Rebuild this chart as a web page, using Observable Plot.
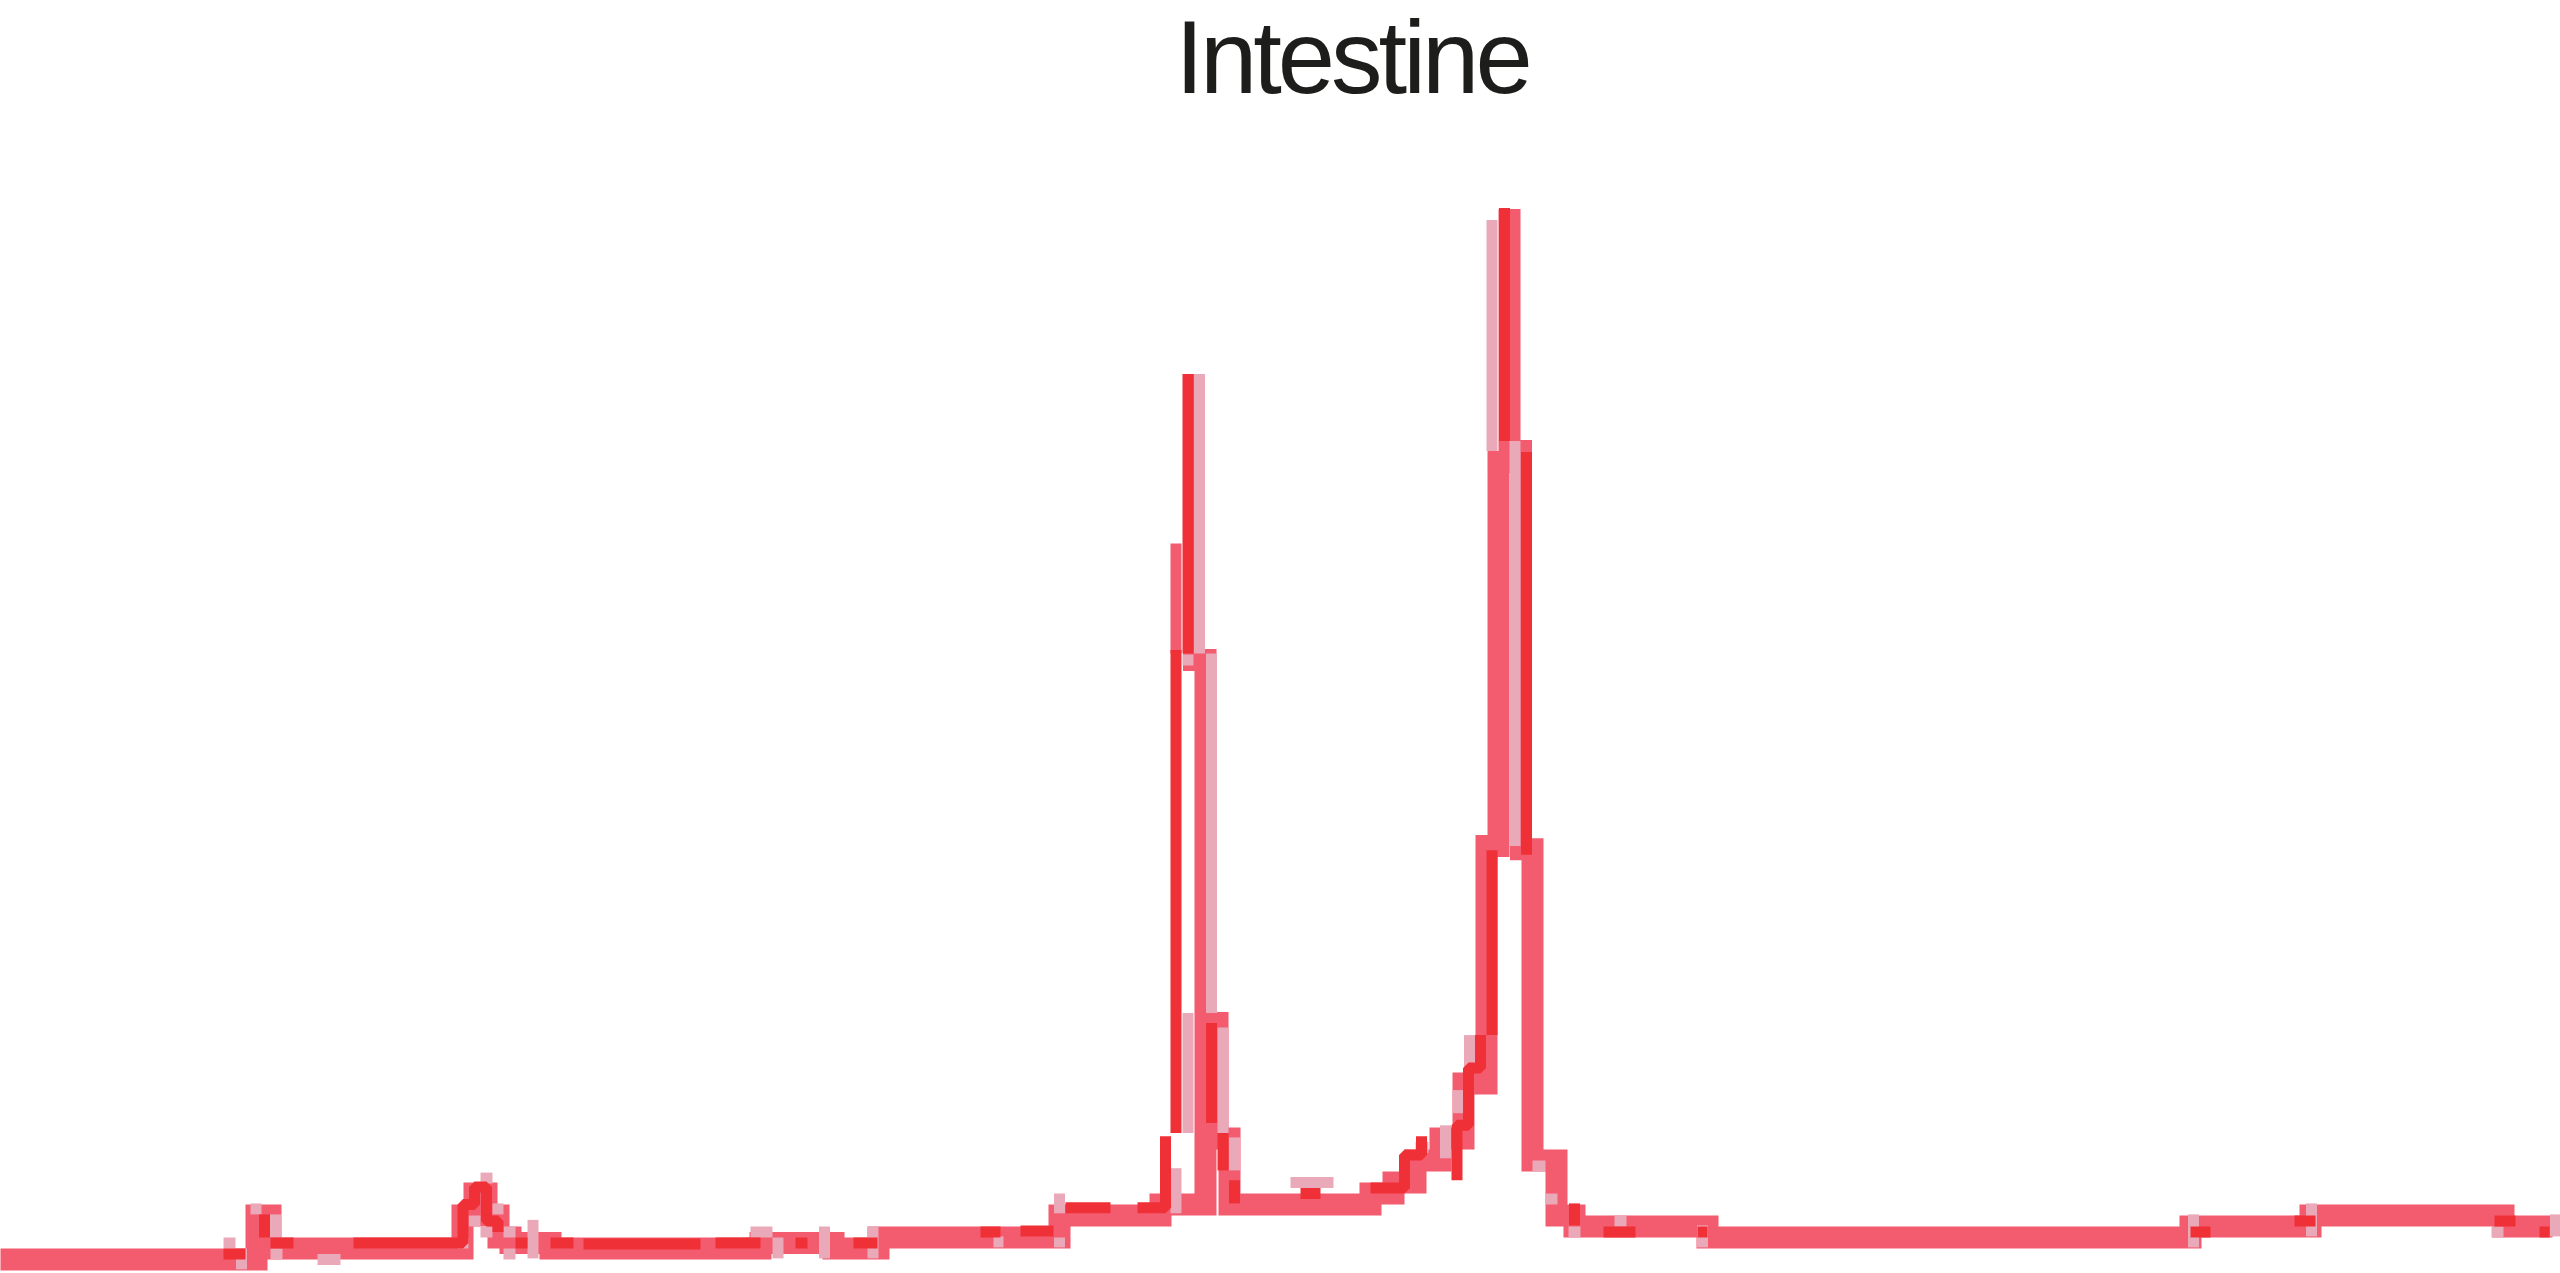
<!DOCTYPE html>
<html>
<head>
<meta charset="utf-8">
<script src="https://cdn.jsdelivr.net/npm/d3@7"></script>
<script src="https://cdn.jsdelivr.net/npm/@observablehq/plot@0.6"></script>
<style>
  html, body { margin: 0; padding: 0; background: #ffffff; }
  #wrap { width: 2560px; }
  #title { position: relative; height: 120px; width: 2560px; }
  #title div { position: absolute; left: 0; width: 2704px; top: 0; text-align: center;
    font-family: "Liberation Sans", Arial, sans-serif; font-weight: 400; font-size: 103px; line-height: 1.12;
    letter-spacing: -4px; color: #1d1d1b; }
  svg { display: block; }
</style>
</head>
<body>
<div id="wrap">
  <div id="title"><div>Intestine</div></div>
  <div id="chart"></div>
</div>
<script>
// ---- data (position along the gut, level) ----
const titleText = "Intestine";

// main series (thick band): [position, level]
const mainSeries = [
  [0,1],[25.6,5],[27,2],[46.2,5],[47.4,7],[48.6,5],[49.8,3],[51,2.5],[55,2],[76,2.5],[83.3,2],[87.8,3],
  [105.9,5],[116,6],[120.5,55.5],[119.35,81.5],[119.35,55.5],[120.5,22.5],[121.7,12],[122.9,6],
  [137,7],[139.3,8],[141.5,10],[144,12],[146.3,17],[148.6,38.6],[149.8,73.5],[150.9,96.5],[150.9,74.5],
  [152.05,38.3],[153.2,10],[155.6,5],[157.4,4],[170.7,3],[219,4],[231,5],[250.3,4],[255.2,4]
];

// extra pieces of the main colour (one lane wide)
const mainAccents = [
  [[117.55,56.1],[117.55,66.1]],
  [[74.5,2.5],[75.5,2.5]]
];

// red series pieces
const redSeries = [
  [[22.3,1.5],[24.5,1.5]],
  [[26.4,3],[26.4,5.1]],
  [[27,2.5],[29.3,2.5]],
  [[35.3,2.5],[46.25,6],[47.4,7.6],[48.6,4.5],[49.75,3.5]],
  [[51.5,2.5],[52.7,2.5]],
  [[55,2.5],[57.3,2.5]],
  [[58.3,2.4],[70,2.4]],
  [[71.5,2.5],[76,2.5]],
  [[79.5,2.5],[80.7,2.5]],
  [[85.3,2.5],[87.7,2.5]],
  [[98,3.5],[100,3.5]],
  [[102,3.6],[105.3,3.6]],
  [[106.5,5.7],[111,5.7]],
  [[113.7,5.7],[116.5,12.2]],
  [[117.55,12.5],[117.55,56.4]],
  [[118.75,56.1],[118.75,81.5]],
  [[121.1,13.4],[121.1,22.5]],
  [[122.25,9.1],[122.25,12.5]],
  [[123.4,6.1],[123.4,8.2]],
  [[130,7],[132,7]],
  [[137,7.5],[140.4,10.5],[142.1,12.2]],
  [[145.65,8.2],[145.65,13.2],[146.8,18.4],[148,21.4]],
  [[149.15,21.4],[149.15,38.2]],
  [[150.4,75.4],[150.4,96.6]],
  [[152.6,37.8],[152.6,74.4]],
  [[157.4,4.1],[157.4,6.1]],
  [[160.3,3.5],[163.5,3.5]],
  [[169.7,3.5],[170.7,3.5]],
  [[219,3.5],[221,3.5]],
  [[229.4,4.5],[231.5,4.5]],
  [[249.4,4.5],[251.5,4.5]],
  [[253.9,3.5],[254.9,3.5]]
];

// light series pieces
const lightSeries = [
  [[22.3,2.5],[23.5,2.5]],
  [[24.1,0.1],[24.1,2]],
  [[25,5.6],[26.1,5.6]],
  [[27.5,3],[27.5,5.1]],
  [[27,1.5],[28.2,1.5]],
  [[31.7,1],[34,1]],
  [[45.7,2.5],[46.8,2.5]],
  [[46.8,4.5],[48,4.5]],
  [[48,8.4],[49.2,8.4]],
  [[48,3.5],[49.2,3.5]],
  [[49.2,5.6],[50.3,5.6]],
  [[50.3,3.5],[51.5,3.5]],
  [[50.3,1.5],[51.5,1.5]],
  [[53.25,1.1],[53.25,4.6]],
  [[75,3.5],[77.2,3.5]],
  [[77.75,1.1],[77.75,3]],
  [[82.4,1.1],[82.4,4]],
  [[87.25,1.1],[87.25,4]],
  [[99.3,2.6],[100.3,2.6]],
  [[105.9,5.2],[105.9,7]],
  [[105.9,2.1],[105.9,3]],
  [[117.55,5.2],[117.55,9.3]],
  [[118.75,12.5],[118.75,23.4]],
  [[118.2,55.5],[119.3,55.5]],
  [[119.9,56.1],[119.9,81.5]],
  [[121.1,23.4],[121.1,56.1]],
  [[122.25,12.5],[122.25,22.1]],
  [[123.4,9.1],[123.4,12.1]],
  [[129,8],[133.3,8]],
  [[141.5,11.2],[142.8,11.2]],
  [[144.5,10.2],[144.5,13.2]],
  [[145.75,14.3],[145.75,16.4]],
  [[146.9,18.4],[146.9,21.4]],
  [[149.15,74.5],[149.15,95.5]],
  [[151.45,38.6],[151.45,75.4]],
  [[153.2,9.5],[154.5,9.5]],
  [[154.5,6.5],[155.7,6.5]],
  [[156.8,3.5],[158,3.5]],
  [[161.4,4.5],[162.6,4.5]],
  [[170.2,2.1],[170.2,4.1]],
  [[219.3,2.1],[219.3,5.1]],
  [[231.1,3.1],[231.1,6.1]],
  [[249.1,3.5],[250.3,3.5]],
  [[255.5,3.1],[255.5,5.1]]
];

const colors = { main: "#f35b6f", red: "#ef3036", light: "#eaa9b9" };

// ---- build tables ----
const mainRows = mainSeries.map(([x, v]) => ({x, v}));
const toRows = (pieces, name) => pieces.flatMap((p, i) => p.map(([x, v]) => ({x, v, piece: name + i})));
const accentRows = toRows(mainAccents, "m");
const redRows = toRows(redSeries, "r");
const lightRows = toRows(lightSeries, "l");

const lane = { x: "x", y: "v", z: "piece", curve: "step-after", strokeWidth: 11,
  strokeLinejoin: "miter", strokeLinecap: "butt" };

const chart = Plot.plot({
  width: 2560,
  height: 1153,
  marginTop: 50,
  marginBottom: 3,
  marginLeft: 0,
  marginRight: 0,
  style: { background: "#ffffff" },
  x: { domain: [0, 256], axis: null },
  y: { domain: [0, 100], axis: null },
  marks: [
    Plot.line(mainRows, { x: "x", y: "v", curve: "step-after", stroke: colors.main, strokeWidth: 22,
      strokeLinejoin: "miter", strokeLinecap: "butt", strokeMiterlimit: 4 }),
    Plot.line(accentRows, { ...lane, stroke: colors.main }),
    Plot.line(lightRows, { ...lane, stroke: colors.light }),
    Plot.line(redRows, { ...lane, stroke: colors.red })
  ]
});
document.getElementById("chart").appendChild(chart);
</script>
</body>
</html>
